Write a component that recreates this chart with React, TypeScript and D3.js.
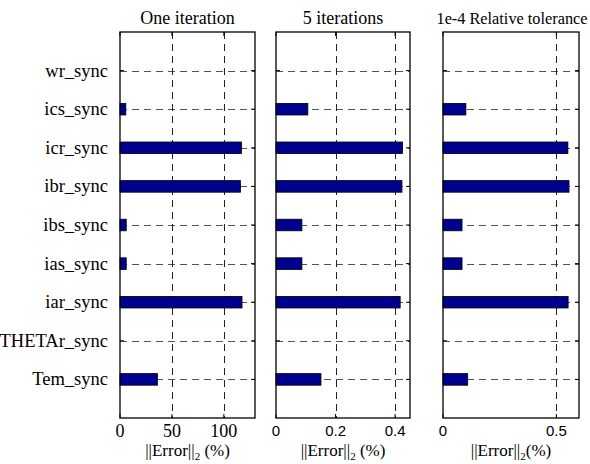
import React from "react";
import * as d3 from "d3";

const categories = [
  "Tem_sync",
  "THETAr_sync",
  "iar_sync",
  "ias_sync",
  "ibs_sync",
  "ibr_sync",
  "icr_sync",
  "ics_sync",
  "wr_sync",
];

const oneIteration = [36, 0, 117.5, 6, 6, 116, 117, 5.6, 0];
const fiveIterations = [0.151, 0, 0.417, 0.087, 0.087, 0.423, 0.425, 0.107, 0];
const relTolerance = [0.109, 0, 0.552, 0.084, 0.084, 0.556, 0.551, 0.101, 0];

const titles = ["One iteration", "5 iterations", "1e-4 Relative tolerance"];
const xMax = [130, 0.45, 0.6];
const xTicks = [
  [0, 50, 100],
  [0, 0.2, 0.4],
  [0, 0.5],
];
const xTickLabels = [
  ["0", "50", "100"],
  ["0", "0.2", "0.4"],
  ["0", "0.5"],
];

const series = [oneIteration, fiveIterations, relTolerance];

const TOP = 32;
const BOTTOM = 418;
const panelX: [number, number][] = [
  [120, 255],
  [276, 410],
  [443, 579],
];
const serif = "Liberation Serif, Times New Roman, Times, DejaVu Serif, serif";
const sans = "Liberation Sans, Arial, Helvetica, sans-serif";

export default function App() {
  const y = d3.scaleLinear().domain([0, categories.length + 1]).range([BOTTOM, TOP]);
  const step = Math.abs(y(1) - y(0));
  const barH = step * 0.3;

  return (
    <svg
      width={590}
      height={464}
      style={{ position: "absolute", left: 0, top: 0, background: "#fff" }}
    >
      {/* category labels */}
      {categories.map((c, i) => (
        <text
          key={c}
          x={108}
          y={y(i + 1) + 6}
          textAnchor="end"
          style={{ fontFamily: serif, fontSize: "18.5px" }}
          fill="#000"
        >
          {c}
        </text>
      ))}
      {series.map((vals, p) => {
        const [x0, x1] = panelX[p];
        const x = d3.scaleLinear().domain([0, xMax[p]]).range([x0, x1]);
        const cx = (x0 + x1) / 2;
        return (
          <g key={p}>
            {/* horizontal grid */}
            {categories.map((c, i) => (
              <line
                key={"h" + c}
                x1={x0}
                x2={x1}
                y1={Math.round(y(i + 1)) + 0.5}
                y2={Math.round(y(i + 1)) + 0.5}
                stroke="#555"
                strokeDasharray="7,5"
                strokeWidth={1}
              />
            ))}
            {/* vertical grid */}
            {xTicks[p]
              .filter((t) => t > 0)
              .map((t) => (
                <line
                  key={"v" + t}
                  x1={Math.round(x(t)) + 0.5}
                  x2={Math.round(x(t)) + 0.5}
                  y1={TOP}
                  y2={BOTTOM}
                  stroke="#222"
                  strokeDasharray="7,5"
                  strokeWidth={1}
                />
              ))}
            {/* y ticks inside both sides */}
            {categories.map((c, i) => (
              <g key={"yt" + c}>
                <line x1={x0} x2={x0 + 4} y1={y(i + 1)} y2={y(i + 1)} stroke="#000" />
                <line x1={x1} x2={x1 - 4} y1={y(i + 1)} y2={y(i + 1)} stroke="#000" />
              </g>
            ))}
            {/* x ticks top and bottom */}
            {xTicks[p].map((t) => (
              <g key={"xt" + t}>
                <line x1={x(t)} x2={x(t)} y1={BOTTOM} y2={BOTTOM - 4} stroke="#000" />
                <line x1={x(t)} x2={x(t)} y1={TOP} y2={TOP + 4} stroke="#000" />
              </g>
            ))}
            {/* bars */}
            {vals.map((v, i) =>
              v > 0 ? (
                <rect
                  key={"b" + i}
                  x={x(0)}
                  y={y(i + 1) - barH / 2}
                  width={x(v) - x(0)}
                  height={barH}
                  fill="#00008f"
                  stroke="#000"
                  strokeWidth={0.8}
                />
              ) : null
            )}
            {/* box */}
            <rect
              x={x0}
              y={TOP}
              width={x1 - x0}
              height={BOTTOM - TOP}
              fill="none"
              stroke="#000"
              strokeWidth={1.3}
            />
            {/* tick labels */}
            {xTicks[p].map((t, k) => (
              <text
                key={"xl" + t}
                x={x(t)}
                y={p === 0 ? 437 : 436}
                textAnchor="middle"
                style={{
                  fontFamily: p === 0 ? serif : sans,
                  fontSize: p === 0 ? "18px" : "15px",
                }}
                fill="#000"
              >
                {xTickLabels[p][k]}
              </text>
            ))}
            {/* title */}
            {p === 2 ? (
              <text
                x={512}
                y={24}
                textAnchor="middle"
                style={{ fontFamily: serif, fontSize: "16.5px" }}
                textLength={151}
                lengthAdjust="spacingAndGlyphs"
                fill="#000"
              >
                {titles[p]}
              </text>
            ) : (
              <text
                x={cx}
                y={24}
                textAnchor="middle"
                style={{ fontFamily: serif, fontSize: "18px" }}
                fill="#000"
              >
                {titles[p]}
              </text>
            )}
            {/* x label */}
            <text
              x={cx}
              y={456}
              textAnchor="middle"
              style={{ fontFamily: serif, fontSize: "17px" }}
              fill="#000"
            >
              ||Error||
              <tspan style={{ fontSize: "11px" }} dy={4}>
                2
              </tspan>
              <tspan dy={-4}>{p === 2 ? "(%)" : " (%)"}</tspan>
            </text>
          </g>
        );
      })}
    </svg>
  );
}
